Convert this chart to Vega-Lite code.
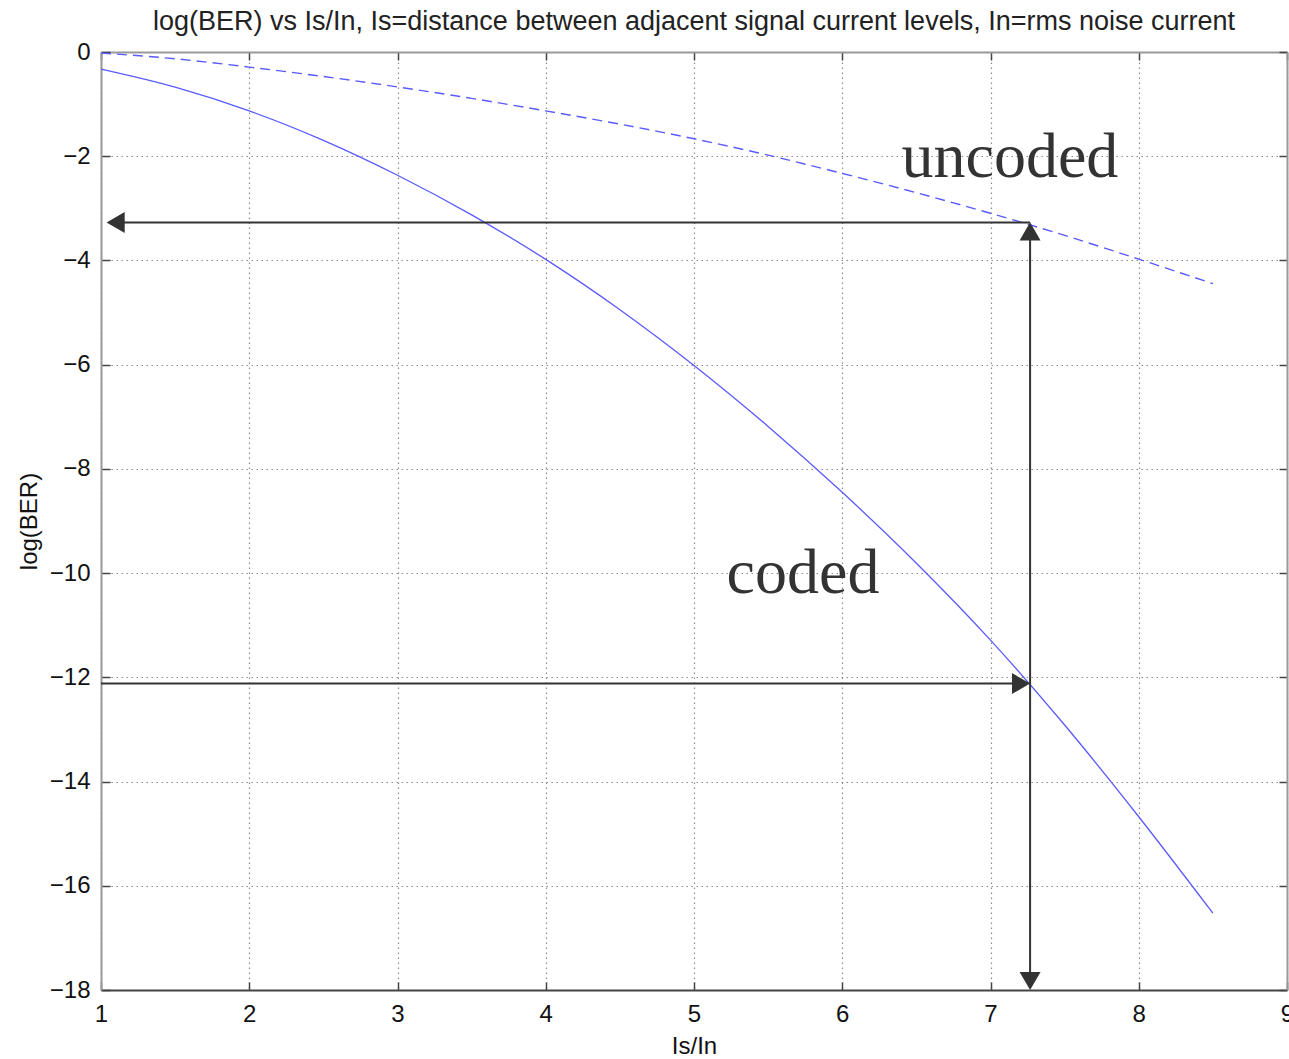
{
  "$schema": "https://vega.github.io/schema/vega-lite/v6.json",
  "width": 1186,
  "height": 938,
  "autosize": "none",
  "padding": {"left": 101, "top": 52, "right": 2, "bottom": 69},
  "background": "white",
  "title": {
    "text": "log(BER) vs Is/In, Is=distance between adjacent signal current levels, In=rms noise current",
    "font": "Liberation Sans",
    "fontSize": 27,
    "fontWeight": "normal",
    "color": "#222",
    "anchor": "middle",
    "offset": 4
  },
  "datasets": {
    "curves": [
      {"x": 1.0, "y": -0.33, "series": "coded"},
      {"x": 1.5, "y": -0.675, "series": "coded"},
      {"x": 2.0, "y": -1.13, "series": "coded"},
      {"x": 2.5, "y": -1.695, "series": "coded"},
      {"x": 3.0, "y": -2.365, "series": "coded"},
      {"x": 3.5, "y": -3.125, "series": "coded"},
      {"x": 4.0, "y": -3.98, "series": "coded"},
      {"x": 4.5, "y": -4.945, "series": "coded"},
      {"x": 5.0, "y": -6.015, "series": "coded"},
      {"x": 5.5, "y": -7.185, "series": "coded"},
      {"x": 6.0, "y": -8.45, "series": "coded"},
      {"x": 6.5, "y": -9.81, "series": "coded"},
      {"x": 7.0, "y": -11.285, "series": "coded"},
      {"x": 7.5, "y": -12.915, "series": "coded"},
      {"x": 8.0, "y": -14.675, "series": "coded"},
      {"x": 8.5, "y": -16.525, "series": "coded"},
      {"x": 1.0, "y": -0.02, "series": "uncoded"},
      {"x": 1.5, "y": -0.13, "series": "uncoded"},
      {"x": 2.0, "y": -0.29, "series": "uncoded"},
      {"x": 2.5, "y": -0.47, "series": "uncoded"},
      {"x": 3.0, "y": -0.67, "series": "uncoded"},
      {"x": 3.5, "y": -0.89, "series": "uncoded"},
      {"x": 4.0, "y": -1.13, "series": "uncoded"},
      {"x": 4.5, "y": -1.385, "series": "uncoded"},
      {"x": 5.0, "y": -1.665, "series": "uncoded"},
      {"x": 5.5, "y": -1.98, "series": "uncoded"},
      {"x": 6.0, "y": -2.33, "series": "uncoded"},
      {"x": 6.5, "y": -2.70, "series": "uncoded"},
      {"x": 7.0, "y": -3.095, "series": "uncoded"},
      {"x": 7.5, "y": -3.52, "series": "uncoded"},
      {"x": 8.0, "y": -3.975, "series": "uncoded"},
      {"x": 8.5, "y": -4.445, "series": "uncoded"}
    ],
    "arrows": [
      {"x": 1.06, "y": -3.27, "x2": 7.267, "y2": -3.27},
      {"x": 7.267, "y": -3.45, "x2": 7.267, "y2": -17.8},
      {"x": 1.0, "y": -12.12, "x2": 7.2, "y2": -12.12}
    ],
    "heads": [
      {"x": 1.038, "y": -3.27, "dir": "left"},
      {"x": 7.267, "y": -3.27, "dir": "up"},
      {"x": 7.267, "y": -18, "dir": "down"},
      {"x": 7.267, "y": -12.12, "dir": "right"}
    ],
    "labels": [
      {"x": 6.40, "y": -2.40, "label": "uncoded"},
      {"x": 5.22, "y": -10.38, "label": "coded"}
    ]
  },
  "layer": [
    {
      "data": {"name": "curves"},
      "transform": [{"filter": "datum.series === 'coded'"}],
      "mark": {"type": "line", "color": "#5a5aff", "strokeWidth": 1.3, "interpolate": "monotone"},
      "encoding": {
        "x": {
          "field": "x", "type": "quantitative",
          "scale": {"domain": [1, 9], "nice": false, "zero": false},
          "axis": {
            "orient": "bottom",
            "values": [1, 2, 3, 4, 5, 6, 7, 8, 9],
            "title": "Is/In",
            "grid": true,
            "gridColor": "#8a8a8a",
            "gridDash": [1.5, 3.5],
            "gridWidth": 1.2,
            "domainColor": "#444",
            "domainWidth": 2,
            "tickSize": -8,
            "tickColor": "#444",
            "tickWidth": 1.5,
            "labelPadding": 20,
            "labelFont": "Liberation Sans",
            "labelFontSize": 24,
            "labelColor": "#111",
            "labelFlush": false,
            "titleFont": "Liberation Sans",
            "titleFontSize": 24,
            "titleFontWeight": "normal",
            "titleColor": "#111",
            "titlePadding": 8
          }
        },
        "y": {
          "field": "y", "type": "quantitative",
          "scale": {"domain": [-18, 0], "nice": false, "zero": false},
          "axis": {
            "orient": "left",
            "values": [-18, -16, -14, -12, -10, -8, -6, -4, -2, 0],
            "title": "log(BER)",
            "grid": true,
            "gridColor": "#8a8a8a",
            "gridDash": [1.5, 3.5],
            "gridWidth": 1.2,
            "domainColor": "#999",
            "domainWidth": 2,
            "tickSize": -9,
            "tickColor": "#444",
            "tickWidth": 1.5,
            "labelPadding": 20,
            "labelFont": "Liberation Sans",
            "labelFontSize": 24,
            "labelColor": "#111",
            "labelFlush": false,
            "titleFont": "Liberation Sans",
            "titleFontSize": 24,
            "titleFontWeight": "normal",
            "titleColor": "#111",
            "titlePadding": 8
          }
        }
      }
    },
    {
      "data": {"name": "curves"},
      "transform": [{"filter": "datum.series === 'uncoded'"}],
      "mark": {"type": "line", "color": "#5a5aff", "strokeWidth": 1.4, "strokeDash": [10, 6], "interpolate": "monotone"},
      "encoding": {
        "x": {
          "field": "x", "type": "quantitative",
          "axis": {
            "orient": "top",
            "values": [1, 2, 3, 4, 5, 6, 7, 8, 9],
            "labels": false,
            "title": null,
            "grid": false,
            "domainColor": "#999",
            "domainWidth": 2,
            "tickSize": -8,
            "tickColor": "#444",
            "tickWidth": 1.5
          }
        },
        "y": {
          "field": "y", "type": "quantitative",
          "axis": {
            "orient": "right",
            "values": [-18, -16, -14, -12, -10, -8, -6, -4, -2, 0],
            "labels": false,
            "title": null,
            "grid": false,
            "domainColor": "#999",
            "domainWidth": 2,
            "tickSize": -8,
            "tickColor": "#444",
            "tickWidth": 1.5
          }
        }
      }
    },
    {
      "data": {"name": "arrows"},
      "mark": {"type": "rule", "color": "#333", "strokeWidth": 2},
      "encoding": {
        "x": {"field": "x", "type": "quantitative", "axis": null},
        "y": {"field": "y", "type": "quantitative", "axis": null},
        "x2": {"field": "x2"},
        "y2": {"field": "y2"}
      }
    },
    {
      "data": {"name": "heads"},
      "transform": [{"filter": "datum.dir === 'left'"}],
      "mark": {"type": "point", "shape": "triangle-left", "filled": true, "color": "#333", "opacity": 1, "size": 440, "xOffset": 9},
      "encoding": {
        "x": {"field": "x", "type": "quantitative", "axis": null},
        "y": {"field": "y", "type": "quantitative", "axis": null}
      }
    },
    {
      "data": {"name": "heads"},
      "transform": [{"filter": "datum.dir === 'right'"}],
      "mark": {"type": "point", "shape": "triangle-right", "filled": true, "color": "#333", "opacity": 1, "size": 440, "xOffset": -9},
      "encoding": {
        "x": {"field": "x", "type": "quantitative", "axis": null},
        "y": {"field": "y", "type": "quantitative", "axis": null}
      }
    },
    {
      "data": {"name": "heads"},
      "transform": [{"filter": "datum.dir === 'up'"}],
      "mark": {"type": "point", "shape": "triangle-up", "filled": true, "color": "#333", "opacity": 1, "size": 440, "yOffset": 9},
      "encoding": {
        "x": {"field": "x", "type": "quantitative", "axis": null},
        "y": {"field": "y", "type": "quantitative", "axis": null}
      }
    },
    {
      "data": {"name": "heads"},
      "transform": [{"filter": "datum.dir === 'down'"}],
      "mark": {"type": "point", "shape": "triangle-down", "filled": true, "color": "#333", "opacity": 1, "size": 440, "yOffset": -9},
      "encoding": {
        "x": {"field": "x", "type": "quantitative", "axis": null},
        "y": {"field": "y", "type": "quantitative", "axis": null}
      }
    },
    {
      "data": {"name": "labels"},
      "mark": {"type": "text", "font": "Liberation Serif", "fontSize": 64, "color": "#333", "align": "left", "baseline": "alphabetic"},
      "encoding": {
        "x": {"field": "x", "type": "quantitative", "axis": null},
        "y": {"field": "y", "type": "quantitative", "axis": null},
        "text": {"field": "label"}
      }
    }
  ],
  "resolve": {"axis": {"x": "independent", "y": "independent"}},
  "config": {
    "view": {"stroke": null}
  }
}
